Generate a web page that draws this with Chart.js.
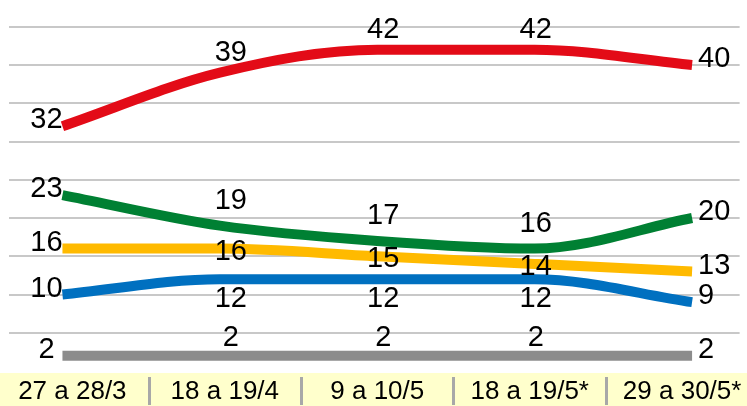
<!DOCTYPE html>
<html>
<head>
<meta charset="utf-8">
<script src="https://cdn.jsdelivr.net/npm/chart.js@4/dist/chart.umd.min.js"></script>
<style>
  html, body { margin: 0; padding: 0; background: #ffffff; }
  #wrap { width: 747px; height: 406px; }
</style>
</head>
<body>
<div id="wrap"><canvas id="c" width="747" height="406"></canvas></div>
<script>
// ---- data ----
const categories = ["27 a 28/3", "18 a 19/4", "9 a 10/5", "18 a 19/5*", "29 a 30/5*"];
const redValues    = [32, 39, 42, 42, 40];
const greenValues  = [23, 19, 17, 16, 20];
const yellowValues = [16, 16, 15, 14, 13];
const blueValues   = [10, 12, 12, 12, 9];
const greyValues   = [2, 2, 2, 2, 2];
const gridValues   = [5, 10, 15, 20, 25, 30, 35, 40, 45];

const FONT = "'Liberation Sans', Arial, sans-serif";

function pts(values) { return values.map((v, i) => ({ x: i, y: v })); }

function series(values, color, labelDy) {
  return {
    data: pts(values),
    borderColor: color,
    backgroundColor: color,
    borderWidth: 10,
    pointRadius: 0,
    pointHoverRadius: 0,
    cubicInterpolationMode: 'monotone',
    borderCapStyle: 'butt',
    fill: false,
    xAxisID: 'x',
    yAxisID: 'y',
    labelDy: labelDy
  };
}

const bandPlugin = {
  id: 'band',
  beforeDraw(chart) {
    const ctx = chart.ctx;
    const xl = chart.scales.xl;
    ctx.save();
    ctx.fillStyle = '#FFFFCC';
    ctx.fillRect(0, 373, chart.width, chart.height - 373);
    ctx.strokeStyle = '#A8A8A8';
    ctx.lineWidth = 3;
    for (let k = 0; k < categories.length - 1; k++) {
      const x = Math.round(xl.getPixelForValue(k + 0.5)) + 0.5;
      ctx.beginPath();
      ctx.moveTo(x, 377);
      ctx.lineTo(x, 405);
      ctx.stroke();
    }
    ctx.restore();
  }
};

const labelPlugin = {
  id: 'valueLabels',
  afterDatasetsDraw(chart) {
    const ctx = chart.ctx;
    const xl = chart.scales.xl;
    ctx.save();
    ctx.font = '29px ' + FONT;
    ctx.fillStyle = '#000000';
    ctx.textBaseline = 'middle';
    chart.data.datasets.forEach((ds, i) => {
      const meta = chart.getDatasetMeta(i);
      const n = meta.data.length;
      meta.data.forEach((pt, j) => {
        const txt = String(ds.data[j].y);
        let x, y;
        if (j === 0) {
          ctx.textAlign = 'center';
          x = pt.x - 16; y = pt.y - 6;
        } else if (j === n - 1) {
          ctx.textAlign = 'left';
          x = pt.x + 6; y = pt.y - 6;
        } else {
          ctx.textAlign = 'center';
          x = xl.getPixelForValue(j) + 6; y = pt.y + ds.labelDy;
        }
        ctx.fillText(txt, x, y);
      });
    });
    ctx.restore();
  }
};

new Chart(document.getElementById('c'), {
  type: 'line',
  data: {
    datasets: [
      series(redValues,    '#E30B17', -20),
      series(greenValues,  '#008033', -25),
      series(yellowValues, '#FFBA00', 3),
      series(blueValues,   '#0070C0', 20),
      series(greyValues,   '#8C8C8C', -18)
    ]
  },
  options: {
    responsive: false,
    devicePixelRatio: 1,
    animation: false,
    events: [],
    layout: { padding: { left: 9, right: 0, top: 0, bottom: 0 } },
    plugins: { legend: { display: false }, tooltip: { enabled: false }, title: { display: false } },
    scales: {
      x: {
        type: 'linear',
        display: false,
        min: -0.3396,
        max: 4.302
      },
      xl: {
        type: 'linear',
        position: 'bottom',
        min: -0.4156,
        max: 4.377,
        afterBuildTicks(scale) { scale.ticks = categories.map((c, i) => ({ value: i })); },
        afterFit(scale) { scale.height = 35; },
        grid: { display: false, drawTicks: false },
        border: { display: false },
        ticks: {
          autoSkip: false,
          maxRotation: 0,
          minRotation: 0,
          padding: 5,
          color: '#000000',
          font: { family: FONT, size: 26 },
          callback(v) { return categories[Math.round(v)]; }
        }
      },
      y: {
        type: 'linear',
        min: 0,
        max: 48.5,
        afterBuildTicks(scale) { scale.ticks = gridValues.map(v => ({ value: v })); },
        afterFit(scale) { scale.width = 0; },
        grid: { color: '#C8C8C8', lineWidth: 2, drawTicks: false },
        border: { display: false },
        ticks: { display: false }
      }
    }
  },
  plugins: [bandPlugin, labelPlugin]
});
</script>
</body>
</html>
